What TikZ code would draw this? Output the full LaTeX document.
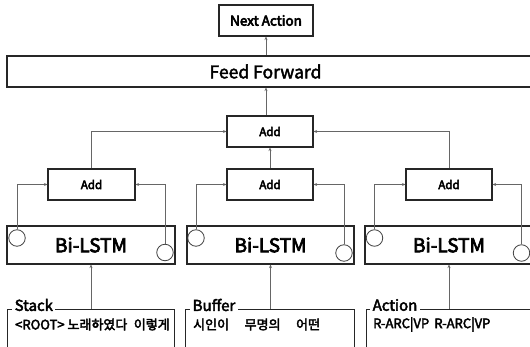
\documentclass[tikz,border=0pt]{standalone}
\usepackage{fontspec}
\setmainfont{Noto Sans CJK KR}
\newcommand\emb[2]{\special{pdf:literal direct 2 Tr #1 w}#2\special{pdf:literal direct 0 Tr}}
\usetikzlibrary{arrows.meta}
\tikzset{
  boxs/.style={draw=black!85, line width=1.1pt, inner sep=0pt, anchor=center},
  conn/.style={draw=black!60, line width=0.8pt},
  arr/.style={conn, -{Stealth[length=3.5pt,width=3pt]}},
  circ/.style={draw=black!75, line width=0.8pt, circle, minimum size=16.5pt, inner sep=0pt},
  lbl/.style={fill=white, inner sep=2.5pt, anchor=west, font=\fontsize{15}{16}\selectfont},
  content/.style={inner sep=0pt, anchor=west, font=\fontsize{13}{14}\selectfont},
  addbox/.style={boxs, minimum width=86pt, minimum height=31pt, font=\fontsize{11.5}{13}\selectfont},
  lstm/.style={boxs, minimum width=168pt, minimum height=38pt, font=\fontsize{19}{20}\selectfont},
  frame/.style={boxs, anchor=north west, minimum height=70pt}
}
\begin{document}
\begin{tikzpicture}[x=1pt,y=-1pt]
\useasboundingbox (0,0) rectangle (530,347);
\clip (0,0) rectangle (530,347);
\fill[white] (0,0) rectangle (530,347);
% top
\node[boxs, minimum width=94pt, minimum height=31pt, font=\fontsize{13.5}{14}\selectfont] (next) at (266,20.5) {\emb{0.6}{Next Action}};
\node[boxs, minimum width=526pt, minimum height=31pt] (ff) at (270,71.5) {};
\node[inner sep=0pt, font=\fontsize{17.5}{18}\selectfont] (fft) at (265.5,71.5) {\emb{0.4}{Feed Forward}};
% adds
\node[addbox] (topadd) at (270,131.5) {\emb{0.5}{Add}};
\node[addbox, minimum width=87pt] (addL) at (91.5,184.5) {\emb{0.5}{Add}};
\node[addbox] (addM) at (270,184.5) {\emb{0.5}{Add}};
\node[addbox] (addR) at (449,184.5) {\emb{0.5}{Add}};
% lstm
\node[lstm] (lstmL) at (91,245) {\emb{0.7}{Bi-LSTM}};
\node[lstm, minimum width=167pt] (lstmM) at (270.5,245) {\emb{0.7}{Bi-LSTM}};
\node[lstm] (lstmR) at (449,245) {\emb{0.7}{Bi-LSTM}};
% circles
\node[circ] (cL1) at (17,238) {};
\node[circ] (cL2) at (165,252.5) {};
\node[circ] (cM1) at (196,238) {};
\node[circ] (cM2) at (344,253) {};
\node[circ] (cR1) at (374.5,238) {};
\node[circ] (cR2) at (521.5,253) {};
% bottom frames
\node[frame, minimum width=167pt] (stack) at (7,309) {};
\node[frame, minimum width=169pt] (buffer) at (185,309) {};
\node[frame, minimum width=168pt] (action) at (366,309) {};
\node[lbl] (stackl) at (12,305) {\emb{0.45}{Stack}};
\node[lbl] (bufferl) at (190,305) {\emb{0.45}{Buffer}};
\node[lbl] (actionl) at (370,305) {\emb{0.45}{Action}};
\node[content] (stackc) at (15,324.5) {\emb{0.4}{<ROOT> 노래하였다\hspace{0.5em}이렇게}};
\node[content] (bufferc) at (193,324.5) {\emb{0.4}{시인이\hspace{1.2em}무명의\hspace{1.2em}어떤}};
\node[content] (actionc) at (373,324.5) {\emb{0.4}{R-ARC|VP\hspace{0.4em}R-ARC|VP}};
% connectors
\draw[arr] (next.south |- ff.north) -- (next.south);
\draw[arr] (next.south |- topadd.north) -- (next.south |- ff.south);
\draw[arr] (addM.north) -- (topadd.south);
\draw[arr] (addL.north) |- (topadd.west);
\draw[arr] (addR.north) |- (topadd.east);
\draw[arr] (cL1.north) |- (addL.west);
\draw[arr] (cL2.north) |- (addL.east);
\draw[arr] (cM1.north) |- (addM.west);
\draw[arr] (cM2.north) |- (addM.east);
\draw[arr] (cR1.north) |- (addR.west);
\draw[arr] (cR2.north) |- (addR.east);
\draw[arr] (lstmL.south |- stack.north) -- (lstmL.south);
\draw[arr] (lstmM.south |- buffer.north) -- (lstmM.south);
\draw[arr] (lstmR.south |- action.north) -- (lstmR.south);
\end{tikzpicture}
\end{document}
